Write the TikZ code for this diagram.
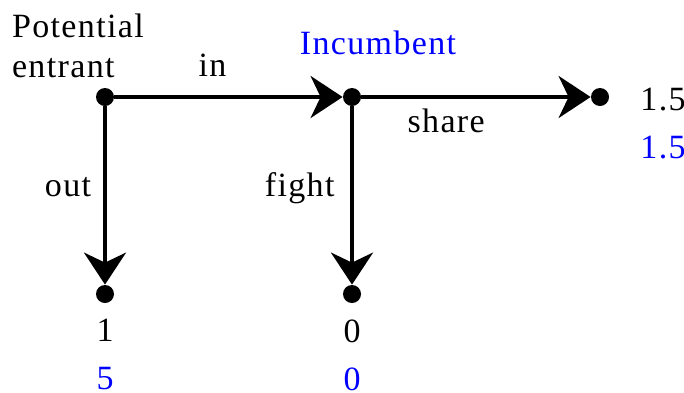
\documentclass[tikz,border=0pt]{standalone}
\usepackage{fontspec}
\setmainfont{Liberation Serif}[LetterSpace=4]
\usetikzlibrary{arrows.meta, positioning}

\begin{document}
\begin{tikzpicture}[
    node distance=98.5pt and 123.5pt,
    font=\fontsize{17}{20}\selectfont,
    dot/.style={circle, fill, inner sep=0pt, minimum size=9pt},
    move/.style={draw, line width=1.8pt, -{Stealth[length=16pt, width=21pt, inset=5pt]}},
    payoff/.style={align=center, font=\fontsize{17}{24}\selectfont}
]
\useasboundingbox (-52.5pt,-147.5pt) rectangle (289.5pt,48.5pt);

% Nodes
\node[dot] (entrant) at (0,0) {};
\node[dot, on grid, right=of entrant] (incumbent) {};
\node[dot, on grid, right=124pt of incumbent] (share) {};
\node[dot, on grid, below=of entrant] (out) {};
\node[dot, on grid, below=of incumbent] (fight) {};

% Players
\node[align=left, anchor=south west, xshift=-50pt, yshift=6pt] (entrantlbl) at (entrant) {Potential\\entrant};
\node[anchor=base, text=blue, xshift=13pt, yshift=21.5pt] (incumbentlbl) at (incumbent) {Incumbent};

% Payoffs
\node[payoff, anchor=north west, xshift=16.7pt, yshift=7.8pt] (payshare) at (share) {1.5\\\textcolor{blue}{1.5}};
\node[payoff, below=4.5pt of out] (payout) {1\\\textcolor{blue}{5}};
\node[payoff, below=4.5pt of fight] (payfight) {0\\\textcolor{blue}{0}};

% Moves
\path[move] (entrant) -- node[above=6pt, pos=0.43] {in} (incumbent);
\path[move] (entrant) -- node[left=2.7pt, pos=0.45] {out} (out);
\path[move] (incumbent) -- node[below=1.6pt, pos=0.37] {share} (share);
\path[move] (incumbent) -- node[left=4.5pt, pos=0.46] {fight} (fight);
\end{tikzpicture}
\end{document}
